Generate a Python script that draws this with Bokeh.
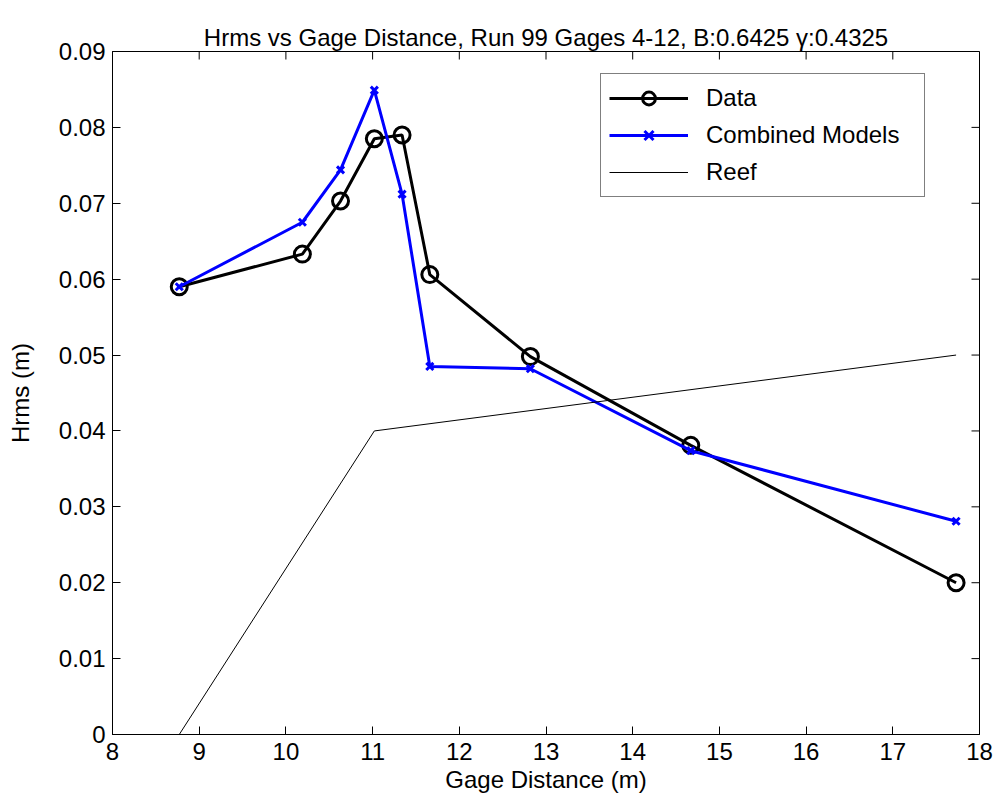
import math
from bokeh.plotting import figure
from bokeh.models import (Range1d, FixedTicker, CustomJSTickFormatter, LinearAxis,
                          Legend, LegendItem, Title)
from bokeh.embed import file_html
from bokeh.resources import INLINE

# ---- data ----
gage_x = [8.77, 10.19, 10.63, 11.02, 11.34, 11.66, 12.82, 14.67, 17.73]
data_h = [0.0590, 0.0633, 0.0703, 0.0785, 0.0790, 0.0606, 0.0498, 0.0381, 0.0200]
model_h = [0.0590, 0.0675, 0.0744, 0.0849, 0.0712, 0.0485, 0.0482, 0.0374, 0.0281]
reef_x = [8.77, 11.02, 17.73]
reef_h = [0.0, 0.040, 0.050]
x_ticks = [8, 9, 10, 11, 12, 13, 14, 15, 16, 17, 18]
y_ticks = [0, 0.01, 0.02, 0.03, 0.04, 0.05, 0.06, 0.07, 0.08, 0.09]
title_text = "Hrms vs Gage Distance, Run 99 Gages 4-12, B:0.6425 \u03b3:0.4325"

FONT = "Liberation Sans"
FS = "24px"

p = figure(width=998, height=806, output_backend="svg", toolbar_location=None,
           x_range=Range1d(x_ticks[0], x_ticks[-1]), y_range=Range1d(y_ticks[0], y_ticks[-1]),
           min_border_left=112, min_border_right=19, min_border_top=51,
           min_border_bottom=72, title=None)
p.grid.visible = False
p.outline_line_color = "black"
p.outline_line_width = 1
p.background_fill_color = "white"

bottom_ax = p.below[0]
left_ax = p.left[0]

bottom_ax.ticker = FixedTicker(ticks=x_ticks)
bottom_ax.axis_label = "Gage Distance (m)"
left_ax.ticker = FixedTicker(ticks=y_ticks)
left_ax.formatter = CustomJSTickFormatter(code="return tick.toFixed(2).replace(/\\.?0+$/, '');")
left_ax.axis_label = "Hrms (m)"

for ax in [bottom_ax, left_ax]:
    ax.major_tick_in = 8
    ax.major_tick_out = 0
    ax.minor_tick_in = 0
    ax.minor_tick_out = 0
    ax.axis_line_color = "black"
    ax.major_tick_line_color = "black"
    ax.major_label_text_font = FONT
    ax.major_label_text_color = "black"
    ax.major_label_text_font_size = FS
    ax.axis_label_text_font = FONT
    ax.axis_label_text_font_size = FS
    ax.axis_label_text_font_style = "normal"
    ax.axis_label_text_color = "black"
bottom_ax.major_label_standoff = 8
left_ax.major_label_standoff = 7
bottom_ax.axis_label_standoff = 3
left_ax.axis_label_standoff = 22

# empty spacer between the title and the box (no ticks, no labels, no line)
spacer = LinearAxis(ticker=FixedTicker(ticks=[]), axis_label=None,
                    major_tick_in=0, major_tick_out=16, minor_tick_in=0, minor_tick_out=0,
                    axis_line_color=None, major_tick_line_color=None,
                    minor_tick_line_color=None, major_label_standoff=0)
p.add_layout(spacer, "above")

title = Title(text=title_text, align="center", text_font=FONT, text_font_size=FS,
              text_font_style="normal", text_color="black", standoff=2)
p.add_layout(title, "above")

# inward ticks on the top and right edges of the box
p.ray(x=x_ticks, y=[y_ticks[-1]] * len(x_ticks), length=8, length_units="screen",
      angle=-math.pi / 2, line_color="black", line_width=1)
p.ray(x=[x_ticks[-1]] * len(y_ticks), y=y_ticks, length=8, length_units="screen",
      angle=math.pi, line_color="black", line_width=1)

l1 = p.line(gage_x, data_h, line_color="black", line_width=3)
c1 = p.scatter(gage_x, data_h, marker="circle", size=16, fill_color=None,
               line_color="black", line_width=3)
l2 = p.line(gage_x, model_h, line_color="blue", line_width=3)
c2 = p.scatter(gage_x, model_h, marker="x", size=10, line_color="blue", line_width=3)
l3 = p.line(reef_x, reef_h, line_color="black", line_width=1)

legend = Legend(items=[
    LegendItem(label="Data", renderers=[l1, c1]),
    LegendItem(label="Combined Models", renderers=[l2, c2]),
    LegendItem(label="Reef", renderers=[l3]),
], location=(488, 537))
legend.label_text_font = FONT
legend.label_text_font_size = FS
legend.label_text_color = "black"
legend.glyph_width = 79
legend.glyph_height = 32
legend.label_height = 32
legend.label_width = 210
legend.label_standoff = 18
legend.spacing = 5
legend.padding = 8
legend.margin = 0
legend.border_line_color = "black"
legend.border_line_width = 1
legend.background_fill_color = "white"
legend.background_fill_alpha = 1
p.add_layout(legend, "center")

open("out.html", "w").write(file_html(p, INLINE))
